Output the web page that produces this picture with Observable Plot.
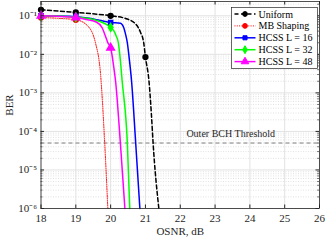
<!DOCTYPE html>
<html><head><meta charset="utf-8">
<script src="https://cdn.jsdelivr.net/npm/d3@7"></script>
<script src="https://cdn.jsdelivr.net/npm/@observablehq/plot@0.6"></script>
<style>body{margin:0;background:#fff}#chart{position:relative;width:329px;height:241px}</style>
</head><body><div id="chart"></div>
<script>
// ---- data ----
const seriesNames = ["Uniform", "MB Shaping", "HCSS L = 16", "HCSS L = 32", "HCSS L = 48"];

const uniformOSNR = [18, 19, 20, 20.43, 20.72, 20.86, 20.95, 21, 21.1, 21.17, 21.22, 21.385];
const uniformBER  = [0.143, 0.122, 0.1, 0.085, 0.061, 0.037, 0.02, 0.0085, 0.0021, 2.9e-4, 5e-5, 1e-6];
const uniformMarkOSNR = [18, 19, 20, 21];
const uniformMarkBER  = [0.143, 0.122, 0.1, 0.0085];

const mbOSNR = [18, 18.5, 19, 19.33, 19.57, 19.71, 19.83, 19.92];
const mbBER  = [0.09, 0.086, 0.079, 0.056, 0.019, 0.0031, 5e-5, 1e-6];
const mbMarkOSNR = [18, 19];
const mbMarkBER  = [0.09, 0.079];

const l16OSNR = [18, 19, 19.5, 20, 20.28, 20.38, 20.43, 20.48, 20.53, 20.6, 20.72, 20.84];
const l16BER  = [0.1, 0.095, 0.083, 0.067, 0.064, 0.048, 0.033, 0.02, 0.0085, 0.0021, 5e-5, 1e-6];
const l16MarkOSNR = [18, 19, 20];
const l16MarkBER  = [0.1, 0.095, 0.067];

const l32OSNR = [18, 19, 19.5, 20, 20.09, 20.16, 20.22, 20.28, 20.33, 20.48, 20.55];
const l32BER  = [0.1, 0.092, 0.08, 0.05, 0.041, 0.03, 0.0204, 0.0069, 0.0021, 5e-5, 1e-6];
const l32MarkOSNR = [18, 19, 20];
const l32MarkBER  = [0.1, 0.092, 0.05];

const l48OSNR = [18, 19, 19.3, 19.6, 19.75, 19.85, 19.92, 20, 20.09, 20.14, 20.28, 20.41];
const l48BER  = [0.1, 0.09, 0.08, 0.068, 0.05, 0.03, 0.02, 0.0148, 0.0047, 0.0021, 5e-5, 1e-6];
const l48MarkOSNR = [18, 19, 20];
const l48MarkBER  = [0.1, 0.09, 0.0148];

const thresholdBER = [5e-5];
const thresholdNote = [{osnr: 23.45, ber: 5e-5, text: "Outer BCH Threshold"}];

const xTicks = [18, 19, 20, 21, 22, 23, 24, 25, 26];
const yTicks = [1e-6, 1e-5, 1e-4, 1e-3, 1e-2, 1e-1];
const yMinor = [];
for (let k = -6; k <= -1; k++) for (let m = 2; m <= 9; m++) { const v = m * Math.pow(10, k); if (v < 0.235) yMinor.push(v); }

// ---- styles ----
const styles = {
  "Uniform":     {color: "#000000", dash: "4,2.5", width: 1.5, symbol: "circle",   sym: d3.symbolCircle,   r: 2.4},
  "MB Shaping":  {color: "#ff0000", dash: "1,1.3", width: 1,   symbol: "circle",   sym: d3.symbolCircle,   r: 2.4},
  "HCSS L = 16": {color: "#0000ff", dash: null,    width: 1.5, symbol: "square",   sym: d3.symbolSquare,   r: 2.3},
  "HCSS L = 32": {color: "#00ff00", dash: null,    width: 1.5, symbol: "diamond",  sym: d3.symbolDiamond,  r: 2.4},
  "HCSS L = 48": {color: "#ff00ff", dash: null,    width: 1.5, symbol: "triangle", sym: d3.symbolTriangle, r: 2.8}
};

const lineSets = [
  [uniformOSNR, uniformBER, uniformMarkOSNR, uniformMarkBER],
  [mbOSNR, mbBER, mbMarkOSNR, mbMarkBER],
  [l16OSNR, l16BER, l16MarkOSNR, l16MarkBER],
  [l32OSNR, l32BER, l32MarkOSNR, l32MarkBER],
  [l48OSNR, l48BER, l48MarkOSNR, l48MarkBER]
];

const lineRows = [], markRows = [];
lineSets.forEach(([xs, ys, mx, my], i) => {
  const name = seriesNames[i];
  xs.forEach((x, j) => lineRows.push({name, osnr: x, ber: ys[j]}));
  mx.forEach((x, j) => markRows.push({name, osnr: x, ber: my[j]}));
});

const W = 329, H = 241, ML = 40.5, MR = 10, MT = 1, MB = 33;
const PW = W - ML - MR, PH = H - MT - MB;

const supMap = {"-": "⁻", "0": "⁰", "1": "¹", "2": "²", "3": "³", "4": "⁴", "5": "⁵", "6": "⁶", "7": "⁷", "8": "⁸", "9": "⁹"};
const fmt = d => "10" + String(Math.round(Math.log10(d))).split("").map(c => supMap[c]).join("");

const lineMarks = [], dotMarks = [];
seriesNames.forEach(name => {
  const s = styles[name];
  lineMarks.push(Plot.line(lineRows.filter(d => d.name === name), {
    x: "osnr", y: "ber", stroke: s.color, strokeWidth: s.width, strokeDasharray: s.dash, curve: "monotone-x"
  }));
  dotMarks.push(Plot.dot(markRows.filter(d => d.name === name), {
    x: "osnr", y: "ber", symbol: s.symbol, fill: s.color, stroke: s.color, r: s.r
  }));
});

const plot = Plot.plot({
  width: W, height: H,
  marginLeft: ML, marginRight: MR, marginTop: MT, marginBottom: MB,
  style: {fontFamily: "'Liberation Serif', 'Times New Roman', serif", fontSize: "11px", background: "#fff", color: "#262626"},
  x: {domain: [18, 26]},
  y: {type: "log", domain: [1e-6, 0.235]},
  marks: [
    Plot.ruleY(yMinor, {stroke: "#d6d6d6", strokeDasharray: "1,1.5", strokeWidth: 0.7}),
    Plot.ruleY(yTicks, {stroke: "#e2e2e2", strokeWidth: 1}),
    Plot.ruleX(xTicks, {stroke: "#e2e2e2", strokeWidth: 1}),
    Plot.ruleY(thresholdBER, {stroke: "#7f7f7f", strokeDasharray: "4,3", strokeWidth: 1}),
    Plot.text(thresholdNote, {x: "osnr", y: "ber", text: "text", dy: -9, fontSize: 10, fill: "#262626"}),
    ...lineMarks,
    ...dotMarks,
    Plot.tickX(xTicks, {x: d => d, insetTop: PH - 3.5, stroke: "#262626"}),
    Plot.tickX(xTicks, {x: d => d, insetBottom: PH - 3.5, stroke: "#262626"}),
    Plot.tickY(yTicks, {y: d => d, insetRight: PW - 3.5, stroke: "#262626"}),
    Plot.tickY(yTicks, {y: d => d, insetLeft: PW - 3.5, stroke: "#262626"}),
    Plot.tickY(yMinor, {y: d => d, insetRight: PW - 2, stroke: "#262626", strokeWidth: 0.6}),
    Plot.tickY(yMinor, {y: d => d, insetLeft: PW - 2, stroke: "#262626", strokeWidth: 0.6}),
    Plot.axisX(xTicks, {tickSize: 0, tickPadding: 6, label: "OSNR, dB", labelAnchor: "center", labelArrow: "none", labelOffset: 26}),
    Plot.axisY(yTicks, {tickSize: 0, tickPadding: 4, tickFormat: fmt, label: "BER", labelAnchor: "center", labelArrow: "none", labelOffset: 36}),
    Plot.frame({stroke: "#262626", strokeWidth: 0.8})
  ]
});

document.getElementById("chart").appendChild(plot);

// ---- legend inside the axes box (top-right) ----
const svg = d3.select(plot);
const lg = svg.append("g").attr("transform", "translate(231.5,7.5)");
lg.append("rect").attr("width", 86).attr("height", 61).attr("fill", "#fff").attr("stroke", "#262626").attr("stroke-width", 0.7);
seriesNames.forEach((name, i) => {
  const s = styles[name];
  const cy = 6.5 + i * 11.9;
  const row = lg.append("g").attr("transform", `translate(0,${cy})`);
  row.append("line").attr("x1", 3).attr("x2", 24).attr("y1", 0).attr("y2", 0)
    .attr("stroke", s.color).attr("stroke-width", s.width).attr("stroke-dasharray", s.dash);
  row.append("path").attr("d", d3.symbol(s.sym, Math.PI * s.r * s.r)()).attr("transform", "translate(13.5,0)")
    .attr("fill", s.color).attr("stroke", s.color);
  row.append("text").attr("x", 27).attr("y", 0).attr("dy", "0.35em").attr("font-size", 10)
    .attr("text-anchor", "start")
    .attr("fill", "#000").attr("font-family", "'Liberation Serif', serif").text(name);
});
</script>
</body></html>
